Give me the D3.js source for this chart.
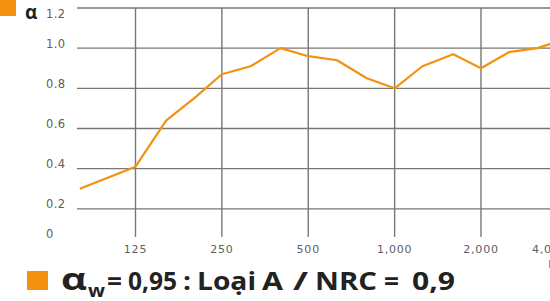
<!DOCTYPE html>
<html>
<head>
<meta charset="utf-8">
<script src="https://cdn.jsdelivr.net/npm/d3@7"></script>
<style>
  body { margin: 0; background: #fff; }
  svg { display: block; }
</style>
</head>
<body>
<div id="chart"></div>
<script>
// third-octave band centres (Hz) and absorption coefficient
const freqs = [80, 100, 125, 160, 200, 250, 315, 400, 500, 630, 800, 1000, 1250, 1600, 2000, 2500, 3150, 4000];
const alpha = [0.30, 0.355, 0.41, 0.64, 0.75, 0.87, 0.91, 1.00, 0.96, 0.94, 0.85, 0.80, 0.91, 0.97, 0.90, 0.98, 1.00, 1.05];
const xTicks = [125, 250, 500, 1000, 2000, 4000];
const yTicks = [0, 0.2, 0.4, 0.6, 0.8, 1.0, 1.2];

const width = 550, height = 301;
const orange = '#f39111';

const svg = d3.select('#chart').append('svg')
    .attr('width', width)
    .attr('height', height);

// plot area
const plot = {left: 77, right: width, top: 8, bottom: 249};

const x = d3.scaleLog().domain([125, 2000]).range([135.5, 481]);
const y = d3.scaleLinear().domain([0, 1.2]).range([plot.bottom, plot.top]);

// horizontal grid (no line at 0)
svg.append('g').attr('class', 'hgrid')
    .selectAll('line')
    .data(yTicks.filter(d => d > 0))
    .join('line')
    .attr('x1', plot.left).attr('x2', plot.right)
    .attr('y1', d => y(d)).attr('y2', d => y(d))
    .attr('stroke', '#777')
    .attr('stroke-width', 1.4);

// vertical grid, stops short of the 0 level
svg.append('g').attr('class', 'vgrid')
    .selectAll('line')
    .data(xTicks)
    .join('line')
    .attr('x1', d => x(d)).attr('x2', d => x(d))
    .attr('y1', plot.top).attr('y2', plot.bottom - 12)
    .attr('stroke', '#777')
    .attr('stroke-width', 1.4);

// y labels, left aligned, sitting just above their gridline
svg.append('g').attr('class', 'ylabels')
    .selectAll('text')
    .data(yTicks)
    .join('text')
    .attr('x', 46)
    .attr('y', d => Math.min(Math.max(y(d) - 4.5, plot.top + 6), plot.bottom - 15))
    .attr('dominant-baseline', 'central')
    .attr('font-family', 'DejaVu Sans, sans-serif')
    .attr('font-size', 11.5)
    .attr('letter-spacing', 0.4)
    .attr('fill', '#5e5e5e')
    .text(d => d === 0 ? '0' : d.toFixed(1));

// x labels; last one is pulled in so it ends on its gridline
const fmt = d3.format(',');
svg.append('g').attr('class', 'xlabels')
    .selectAll('text')
    .data(xTicks)
    .join('text')
    .attr('x', d => x(d))
    .attr('y', plot.bottom + 0.5)
    .attr('dominant-baseline', 'central')
    .attr('text-anchor', (d, i) => i === xTicks.length - 1 ? 'end' : 'middle')
    .attr('font-family', 'DejaVu Sans, sans-serif')
    .attr('font-size', 11)
    .attr('letter-spacing', 0.8)
    .attr('fill', '#5e5e5e')
    .text(d => fmt(d));

svg.append('text')
    .attr('x', 548).attr('y', 268)
    .attr('font-family', 'DejaVu Sans, sans-serif')
    .attr('font-size', 11)
    .attr('fill', '#888')
    .text('Hz');

// axis symbol + marker top left
svg.append('rect')
    .attr('x', -4).attr('y', -4)
    .attr('width', 20).attr('height', 20)
    .attr('fill', orange);
svg.append('text')
    .attr('x', 25).attr('y', 19)
    .attr('font-family', 'Open Sans, sans-serif')
    .attr('font-weight', 700)
    .attr('font-size', 19)
    .attr('fill', '#222')
    .text('α');

// the curve
svg.append('clipPath').attr('id', 'clip')
    .append('rect')
    .attr('x', plot.left).attr('y', 0)
    .attr('width', plot.right - plot.left).attr('height', height);

const line = d3.line()
    .x((d, i) => x(freqs[i]))
    .y(d => y(d));

svg.append('path')
    .datum(alpha)
    .attr('clip-path', 'url(#clip)')
    .attr('fill', 'none')
    .attr('stroke', orange)
    .attr('stroke-width', 2.2)
    .attr('stroke-linejoin', 'round')
    .attr('d', line);

// legend / caption
svg.append('rect')
    .attr('x', 27).attr('y', 271)
    .attr('width', 21).attr('height', 19)
    .attr('fill', orange);

// caption pieces: text, left x, width, size, baseline
const capParts = [
    {t: 'α',    x: 61,  w: 26, s: 30, b: 290},
    {t: 'w',    x: 88,  w: 17, s: 18, b: 297},
    {t: '=',    x: 107, w: 15, s: 25, b: 290},
    {t: '0,95', x: 128, w: 49, s: 25, b: 290},
    {t: ':',    x: 183, w: 8,  s: 25, b: 290},
    {t: 'Loại', x: 197, w: 59, s: 25, b: 290},
    {t: 'A',    x: 262, w: 21, s: 25, b: 290},
    {t: '/',    x: 293, w: 15, s: 25, b: 290},
    {t: 'NRC',  x: 315, w: 62, s: 25, b: 290},
    {t: '=',    x: 384, w: 15, s: 25, b: 290},
    {t: '0,9',  x: 412, w: 43, s: 25, b: 290}
];

svg.append('g').attr('class', 'caption')
    .selectAll('text')
    .data(capParts)
    .join('text')
    .attr('x', d => d.x)
    .attr('y', d => d.b)
    .attr('textLength', d => d.w)
    .attr('lengthAdjust', 'spacingAndGlyphs')
    .attr('font-family', 'Open Sans, sans-serif')
    .attr('font-weight', 700)
    .attr('font-size', d => d.s)
    .attr('fill', '#222')
    .text(d => d.t);
</script>
</body>
</html>
